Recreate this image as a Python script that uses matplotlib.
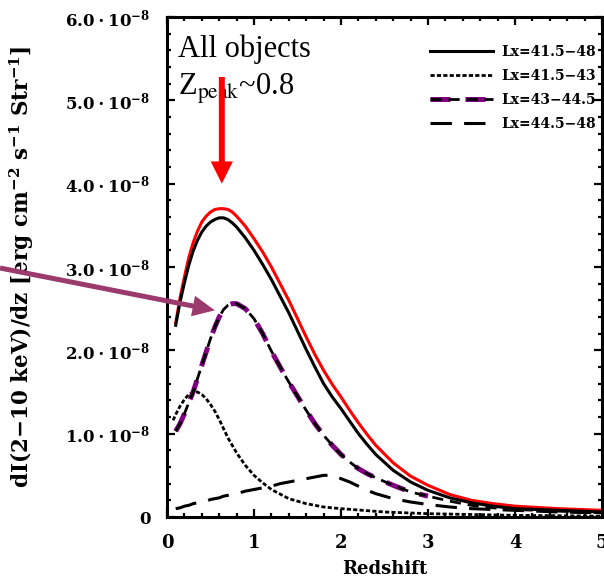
import numpy as np
import matplotlib
matplotlib.use("Agg")
import matplotlib.pyplot as plt
from matplotlib.ticker import MultipleLocator, FuncFormatter
from matplotlib.legend_handler import HandlerTuple

plt.rcParams["mathtext.fontset"] = "custom"
plt.rcParams["mathtext.rm"] = "DejaVu Serif:bold"
plt.rcParams["mathtext.it"] = "DejaVu Serif:bold"
plt.rcParams["mathtext.bf"] = "DejaVu Serif:bold"

# redshift grid and dI/dz values (units of 1e-8 erg cm^-2 s^-1 sr^-1)
z = [0.1, 0.15, 0.2, 0.25, 0.3, 0.35, 0.4, 0.45, 0.5, 0.55, 0.6, 0.65, 0.7, 0.75, 0.8,
     0.9, 1.0, 1.1, 1.2, 1.3, 1.4, 1.5, 1.6, 1.7, 1.8, 1.9, 2.0, 2.1, 2.2, 2.3, 2.4,
     2.6, 2.8, 3.0, 3.25, 3.5, 3.75, 4.0, 4.5, 5.0]
all_obj = [2.33, 2.63, 2.88, 3.11, 3.29, 3.43, 3.54, 3.61, 3.66, 3.69, 3.70, 3.70, 3.69, 3.66, 3.61,
           3.49, 3.34, 3.18, 3.00, 2.80, 2.60, 2.38, 2.16, 1.95, 1.76, 1.59, 1.44, 1.28, 1.13, 0.99, 0.86,
           0.65, 0.49, 0.38, 0.27, 0.20, 0.16, 0.13, 0.10, 0.08]
lx_415_48 = [2.30, 2.58, 2.81, 3.02, 3.19, 3.32, 3.42, 3.49, 3.54, 3.57, 3.59, 3.59, 3.57, 3.53, 3.48,
             3.35, 3.20, 3.03, 2.85, 2.65, 2.45, 2.23, 2.01, 1.80, 1.60, 1.44, 1.30, 1.15, 1.00, 0.87, 0.75,
             0.56, 0.42, 0.32, 0.23, 0.17, 0.13, 0.10, 0.08, 0.06]
lx_43_445 = [1.03, 1.12, 1.24, 1.37, 1.50, 1.66, 1.82, 1.98, 2.14, 2.28, 2.40, 2.49, 2.54, 2.56, 2.56,
             2.50, 2.38, 2.20, 1.99, 1.80, 1.62, 1.45, 1.28, 1.12, 0.98, 0.86, 0.75, 0.66, 0.58, 0.52, 0.47,
             0.38, 0.30, 0.25, 0.19, 0.14, 0.11, 0.09, 0.07, 0.05]
lx_445_48 = [0.10, 0.11, 0.13, 0.14, 0.16, 0.17, 0.18, 0.19, 0.21, 0.22, 0.23, 0.25, 0.26, 0.27, 0.28,
             0.31, 0.33, 0.35, 0.37, 0.40, 0.42, 0.44, 0.46, 0.48, 0.50, 0.50, 0.46, 0.42, 0.37, 0.32, 0.28,
             0.22, 0.18, 0.15, 0.12, 0.10, 0.09, 0.08, 0.06, 0.05]
z_lo = [0.07, 0.1, 0.15, 0.2, 0.25, 0.3, 0.35, 0.4, 0.45, 0.5, 0.55, 0.6, 0.65, 0.7, 0.8, 0.9,
        1.0, 1.1, 1.2, 1.4, 1.6, 1.8, 2.0, 2.5, 3.0, 3.5, 4.0, 5.0]
lx_415_43 = [1.16, 1.23, 1.33, 1.41, 1.47, 1.50, 1.50, 1.47, 1.42, 1.35, 1.27, 1.17, 1.06, 0.95, 0.77, 0.62,
             0.50, 0.41, 0.33, 0.22, 0.16, 0.12, 0.10, 0.06, 0.04, 0.03, 0.02, 0.01]
n_purple = 34  # purple overlay stops at z=3

labels = ["Lx=41.5\u221248", "Lx=41.5\u221243", "Lx=43\u221244.5", "Lx=44.5\u221248"]
scale = 1e-8

fig = plt.figure(figsize=(6.04, 5.8), dpi=100)
ax = fig.add_axes([167 / 604, 63 / 580, 435 / 604, 500 / 580])

zz = np.array(z)
ax.plot(zz, np.array(all_obj) * scale, color="red", lw=2.2)
l1, = ax.plot(zz, np.array(lx_415_48) * scale, color="black", lw=2.2)
l2, = ax.plot(z_lo, np.array(lx_415_43) * scale, color="black", lw=2.0, ls=(0, (1.5, 0.8)))
lp, = ax.plot(zz[:n_purple], np.array(lx_43_445[:n_purple]) * scale, color="#800080",
              lw=3.6, ls=(0, (4, 3)))
l3, = ax.plot(zz, np.array(lx_43_445) * scale, color="black", lw=2.0, ls=(0, (4, 2.5)))
l4, = ax.plot(zz, np.array(lx_445_48) * scale, color="black", lw=2.2, ls=(0, (7, 4)))

ax.set_xlim(0, 5)
ax.set_ylim(0, 6e-8)
ax.xaxis.set_major_locator(MultipleLocator(1))
ax.xaxis.set_minor_locator(MultipleLocator(0.2))
ax.yaxis.set_major_locator(MultipleLocator(1e-8))
ax.yaxis.set_minor_locator(MultipleLocator(0.2e-8))


def yfmt(v, pos):
    if abs(v) < 1e-12:
        return "0"
    return r"$%.1f\cdot10^{-8}$" % (v / 1e-8)


ax.yaxis.set_major_formatter(FuncFormatter(yfmt))
ax.tick_params(which="both", direction="in", top=True, right=True, width=1.6)
ax.tick_params(which="major", length=6)
ax.tick_params(which="minor", length=3)
ax.tick_params(axis="x", which="major", pad=12, labelsize=13)
ax.tick_params(axis="y", which="major", pad=12, labelsize=12)
for lab in ax.get_xticklabels() + ax.get_yticklabels():
    lab.set_family("DejaVu Serif")
    lab.set_fontweight("bold")
for s in ax.spines.values():
    s.set_linewidth(2.2)

ax.set_xlabel("Redshift", family="DejaVu Serif", fontweight="bold", fontsize=13, labelpad=6)
ax.set_ylabel(r"dI(2$-$10 keV)/dz [erg cm$^{-2}$ s$^{-1}$ Str$^{-1}$]",
              family="DejaVu Serif", fontweight="bold", fontsize=15.5, labelpad=21)

leg = ax.legend([l1, l2, (lp, l3), l4], labels, loc="upper right",
                bbox_to_anchor=(0.986, 0.944), frameon=False, borderpad=0, borderaxespad=0,
                handlelength=4.5, handletextpad=0.6, labelspacing=0.72,
                handler_map={tuple: HandlerTuple(ndivide=1)},
                prop={"family": "DejaVu Serif", "weight": "bold", "size": 10})

ax.text(0.025, 0.92, "All objects", transform=ax.transAxes, family="Liberation Serif",
        fontsize=22, va="baseline")
ax.text(0.025, 0.844, r"Z$_{\rm peak}$~0.8", transform=ax.transAxes, family="Liberation Serif",
        fontsize=22, va="baseline", math_fontfamily="stix")

# red arrow marking the peak
ax.annotate("", xy=(0.63, 4.0e-8), xytext=(0.63, 5.28e-8),
            arrowprops=dict(width=4.3, headwidth=16, headlength=16, facecolor="red",
                            edgecolor="none", lw=0, shrink=0))
# purple arrow pointing at the Lx=43-44.5 peak
ax.annotate("", xy=(0.55, 2.48e-8), xytext=(0, 312), textcoords="figure pixels",
            annotation_clip=False,
            arrowprops=dict(width=3.6, headwidth=15, headlength=16, facecolor="#9b3a6c",
                            edgecolor="none", lw=0, shrink=0))

fig.savefig("out.png", dpi=100)
